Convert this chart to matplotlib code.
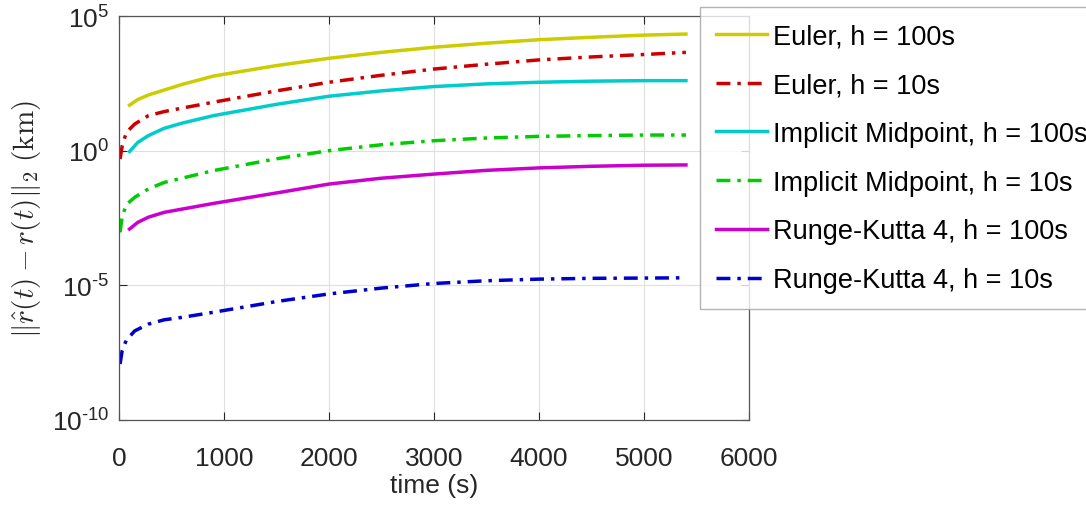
import numpy as np
import matplotlib.pyplot as plt
from matplotlib import ticker

# time samples (s)
t_100 = [100, 180, 280, 430, 600, 900, 1500, 2000, 2500, 3000, 3500, 4000, 4500, 5000, 5400]
t_10 = [10, 30, 70, 150, 280, 430, 600, 900, 1500, 2000, 2500, 3000, 3500, 4000, 4500, 5000, 5400]

# position error (km)
euler_100 = [49, 79.4, 117, 178, 288, 589, 1445, 2692, 4467, 6918, 9772, 13183, 16218, 19498, 21380]
euler_10 = [0.49, 1.51, 4.79, 9.77, 20.0, 28.2, 38.0, 63.1, 166, 347, 631, 1072, 1622, 2344, 3020, 3715, 4467]
mid_100 = [0.93, 2.04, 3.63, 6.76, 10.5, 20.0, 52.5, 105, 166, 240, 302, 347, 380, 398, 398]
mid_10 = [9.3e-4, 3.5e-3, 1.0e-2, 1.86e-2, 3.8e-2, 6.6e-2, 9.5e-2, 0.182, 0.50, 1.0, 1.66, 2.34, 2.95, 3.39, 3.63, 3.80, 3.80]
rk4_100 = [1.23e-3, 2.19e-3, 3.39e-3, 5.13e-3, 6.76e-3, 1.10e-2, 2.69e-2, 5.75e-2, 9.5e-2, 0.135, 0.186, 0.229, 0.263, 0.288, 0.295]
rk4_10 = [1.2e-8, 3.8e-8, 9.3e-8, 2.04e-7, 3.63e-7, 5.25e-7, 6.46e-7, 1.0e-6, 2.5e-6, 4.8e-6, 7.9e-6, 1.17e-5, 1.48e-5, 1.7e-5, 1.82e-5, 1.86e-5, 1.9e-5]

labels = ["Euler, h = 100s", "Euler, h = 10s",
          "Implicit Midpoint, h = 100s", "Implicit Midpoint, h = 10s",
          "Runge-Kutta 4, h = 100s", "Runge-Kutta 4, h = 10s"]

plt.rcParams['font.family'] = ['Liberation Sans', 'DejaVu Sans']
plt.rcParams['mathtext.fontset'] = 'custom'
plt.rcParams['mathtext.rm'] = 'Liberation Sans'
plt.rcParams['mathtext.it'] = 'Liberation Sans:italic'

grey = '#262626'
fig = plt.figure(figsize=(10.86, 5.06), dpi=100)
ax = fig.add_axes([0.1096, 0.168, 0.58, 0.7984])

dd = (4, 2, 1, 2)
series = [
    (t_100, euler_100, '#cccc00', None),
    (t_10, euler_10, '#cc0000', dd),
    (t_100, mid_100, '#00cccc', None),
    (t_10, mid_10, '#00cc00', dd),
    (t_100, rk4_100, '#cc00cc', None),
    (t_10, rk4_10, '#0000cc', dd),
]
for (t, v, c, d), lab in zip(series, labels):
    line, = ax.semilogy(t, v, color=c, lw=2.5, label=lab)
    if d is not None:
        line.set_dashes(d)


def exp_label(v, pos):
    e = int(round(np.log10(v)))
    s = str(abs(e))
    if e < 0:
        s = '\u2010' + s
    return r'$\mathregular{10^{%s}}$' % s


ax.set_xlim(0, 6000)
ax.set_ylim(1e-10, 1e5)
ax.set_xticks(range(0, 6001, 1000))
ax.set_yticks([1e-10, 1e-5, 1e0, 1e5])
ax.yaxis.set_minor_locator(ticker.NullLocator())
ax.yaxis.set_major_formatter(ticker.FuncFormatter(exp_label))
ax.grid(True, color='#dfdfdf', lw=0.8)
ax.tick_params(direction='in', top=True, right=True, labelsize=19,
               colors=grey, length=6, width=0.8)
ax.tick_params(axis='x', pad=19)
ax.tick_params(axis='y', pad=7)
for s in ax.spines.values():
    s.set_color('#555555')
    s.set_linewidth(0.9)

ax.set_xlabel('time (s)', fontsize=19, color=grey, labelpad=2)
ax.set_ylabel(r'$\Vert\hat{r}(t) - r(t)\Vert_2\ \mathrm{(km)}$', fontsize=21,
              color=grey, math_fontfamily='cm', labelpad=6)

leg = fig.legend(loc='upper left', bbox_to_anchor=(0.6446, 0.984), fontsize=19.5,
                 frameon=True, fancybox=False, edgecolor='#a0a0a0',
                 handlelength=1.88, handletextpad=0.22, labelspacing=0.84,
                 borderpad=0.6, borderaxespad=0)
leg.get_frame().set_linewidth(1.0)

fig.savefig('out.png', dpi=100)
